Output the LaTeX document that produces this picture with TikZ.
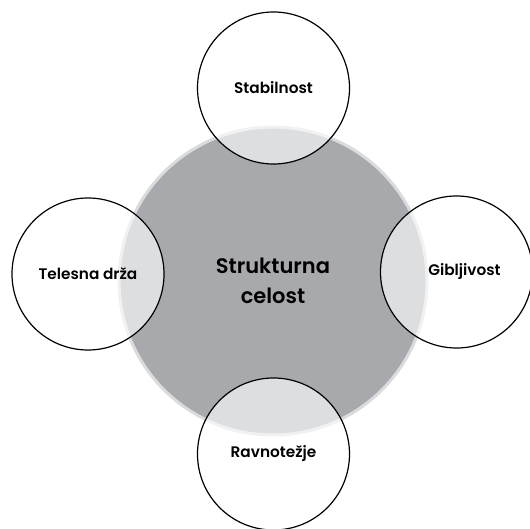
\documentclass[tikz,border=0pt]{standalone}
\usepackage{fontspec}
\setmainfont{Poppins}[BoldFont={Poppins SemiBold}]
\usepackage{tikz}
\usetikzlibrary{positioning}
\definecolor{kerngrau}{HTML}{A8A9AC}
\definecolor{randgrau}{HTML}{DADBDD}

\tikzset{
  kern/.style={circle,minimum size=308pt,fill=kerngrau,draw=randgrau,line width=3pt,
    font=\bfseries\fontsize{21}{30}\selectfont,align=center},
  teil/.style={circle,minimum size=152pt,fill=white,fill opacity=0.62,text opacity=1,
    draw=black,line width=1.2pt,font=\bfseries\fontsize{15.3}{18}\selectfont}
}

\begin{document}
\begin{tikzpicture}[x=1pt,y=-1pt] %Strukturna celost
		\useasboundingbox (0,0) rectangle (530,529);
		\node[kern] (celost) at (273,281) {Strukturna\\celost};
		\node[teil] (stabilnost) at (273.5,88) {Stabilnost};
		\node[teil] (drza) at (88,274) {Telesna drža};
		\node[teil,label={[xshift=8pt,font=\bfseries\fontsize{15.3}{18}\selectfont]center:Gibljivost}] (gibljivost) at (456.5,272) {};
		\node[teil] (ravnotezje) at (273.5,454) {Ravnotežje};
		\end{tikzpicture}
\end{document}
